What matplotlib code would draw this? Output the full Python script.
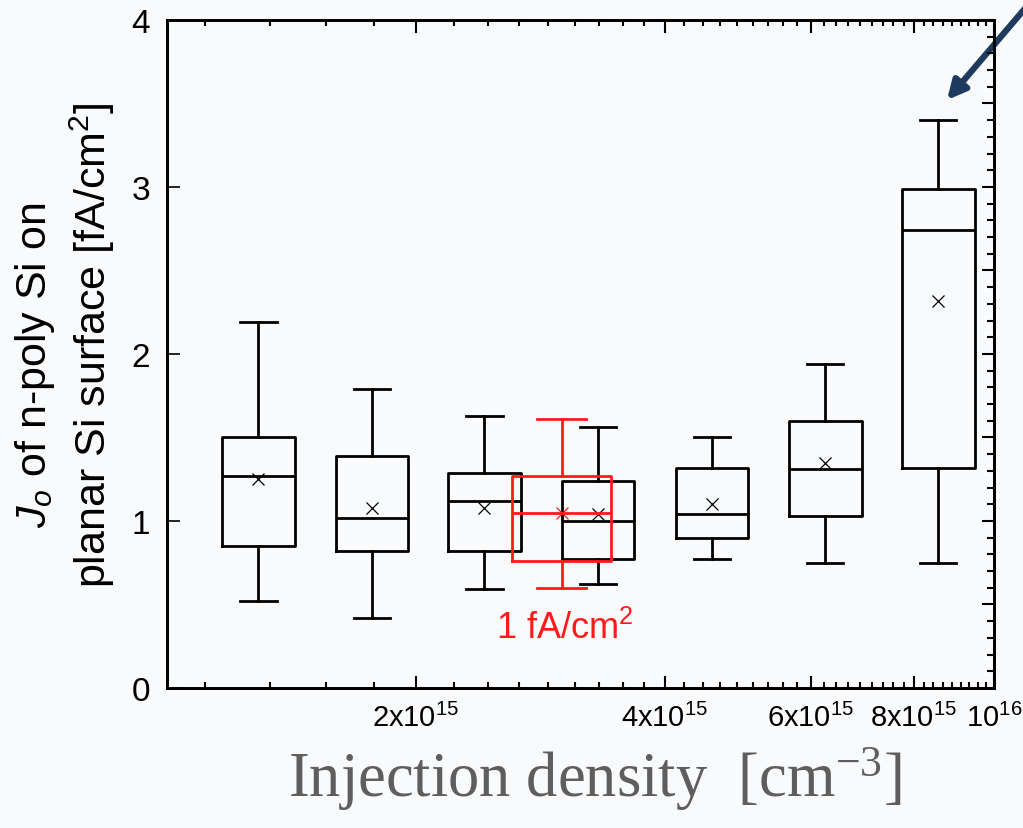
import numpy as np
import matplotlib.pyplot as plt
from matplotlib.ticker import FixedLocator, MultipleLocator, NullFormatter

plt.rcParams['font.family'] = ['Liberation Sans', 'DejaVu Sans']
plt.rcParams['mathtext.fontset'] = 'custom'
plt.rcParams['mathtext.rm'] = 'Liberation Sans'
plt.rcParams['mathtext.it'] = 'Liberation Sans:italic'

# injection density of each box [cm^-3]
density = [1.29e15, 1.77e15, 2.42e15, 3.32e15, 4.56e15, 6.25e15, 8.56e15]
whis_lo = [0.52, 0.42, 0.59, 0.62, 0.77, 0.75, 0.75]
q1 = [0.85, 0.82, 0.82, 0.77, 0.90, 1.03, 1.32]
median = [1.27, 1.02, 1.12, 1.00, 1.04, 1.31, 2.74]
q3 = [1.50, 1.39, 1.29, 1.24, 1.32, 1.60, 2.99]
whis_hi = [2.19, 1.79, 1.63, 1.56, 1.50, 1.94, 3.40]
mean = [1.25, 1.08, 1.08, 1.04, 1.10, 1.35, 2.32]

# red "1 fA/cm2" reference box
ref_density = 3.0e15
ref_lo, ref_q1, ref_med, ref_q3, ref_hi = 0.60, 0.76, 1.05, 1.27, 1.61

xticks = [2e15, 4e15, 6e15, 8e15, 1e16]
xticklabels = [r'2x10$\mathregular{^{15}}$', r'4x10$\mathregular{^{15}}$',
               r'6x10$\mathregular{^{15}}$', r'8x10$\mathregular{^{15}}$',
               r'10$\mathregular{^{16}}$']
yticks = [0, 1, 2, 3, 4]

bg = '#f9fafc'
fig = plt.figure(figsize=(10.23, 8.29), dpi=100, facecolor=bg)
ax = fig.add_axes([0.1632, 0.1689, 0.8085, 0.8058], facecolor=bg)

# axis is drawn in log10 units so the boxes keep a constant width
stats = []
for i in range(len(density)):
    stats.append(dict(whislo=whis_lo[i], q1=q1[i], med=median[i], q3=q3[i],
                      whishi=whis_hi[i], mean=mean[i], fliers=[]))
lw = 2.0
ax.bxp(stats, positions=np.log10(density), widths=0.088, showmeans=True,
       boxprops=dict(color='black', lw=lw), medianprops=dict(color='black', lw=lw),
       whiskerprops=dict(color='black', lw=lw), capprops=dict(color='black', lw=lw),
       meanprops=dict(marker='x', markeredgecolor='black', markersize=9, markeredgewidth=0.9),
       capwidths=0.044, manage_ticks=False)

ref = [dict(whislo=ref_lo, q1=ref_q1, med=ref_med, q3=ref_q3, whishi=ref_hi,
            mean=ref_med, fliers=[])]
red = '#ff1a1a'
ax.bxp(ref, positions=[np.log10(ref_density)], widths=0.12, showmeans=True,
       boxprops=dict(color=red, lw=lw, zorder=5), medianprops=dict(color=red, lw=lw, zorder=5),
       whiskerprops=dict(color=red, lw=lw, zorder=5), capprops=dict(color=red, lw=lw, zorder=5),
       meanprops=dict(marker='x', markeredgecolor=red, markersize=9, markeredgewidth=0.9, zorder=6),
       capwidths=0.06, manage_ticks=False)
ax.text(np.log10(ref_density) + 0.004, 0.36, r'1 fA/cm$^2$', color=red, fontsize=26,
        ha='center', va='center')

ax.set_xlim(15, 16)
ax.set_ylim(0, 4)

minor_x = [k * 2e15 / 9 for k in range(5, 45) if k % 9]
ax.xaxis.set_major_locator(FixedLocator(np.log10(xticks)))
ax.set_xticklabels(xticklabels)
ax.xaxis.set_minor_locator(FixedLocator(np.log10(minor_x)))
ax.xaxis.set_minor_formatter(NullFormatter())
ax.set_yticks(yticks)
ax.set_yticklabels([str(v) for v in yticks])

ax.tick_params(axis='x', which='major', direction='in', top=True, bottom=True,
               length=9, width=1.5, labelsize=21, pad=11)
ax.tick_params(axis='x', which='minor', direction='in', top=True, bottom=True,
               length=4, width=1.5)
ax.tick_params(axis='y', which='major', direction='in', left=True, right=False,
               length=9, width=1.2, labelsize=24, pad=12)

ax2 = ax.twinx()
ax2.set_ylim(0, 4)
ax2.yaxis.set_major_locator(MultipleLocator(0.5))
ax2.yaxis.set_minor_locator(MultipleLocator(0.1))
ax2.yaxis.set_major_formatter(NullFormatter())
ax2.tick_params(axis='y', which='major', direction='in', length=9, width=1.5)
ax2.tick_params(axis='y', which='minor', direction='in', length=5, width=1.5)

for a in (ax, ax2):
    for s in a.spines.values():
        s.set_linewidth(2.0)

fig.text(0.034, 1 - 365 / 829, r'$J_o$ of n-poly Si on', rotation=90,
         ha='center', va='center', fontsize=31)
fig.text(0.090, 1 - 345 / 829, r'planar Si surface [fA/cm$^2$]', rotation=90,
         ha='center', va='center', fontsize=31)

fig.text(0.5816, 1 - 797 / 829, r'Injection density  [cm$\mathregular{^{-3}}$]',
         family='Liberation Serif', color='#5e5e5e', fontsize=45,
         ha='center', va='baseline')

ax.annotate('', xy=(947, 829 - 101), xycoords='figure pixels',
            xytext=(1045, 829 + 14), textcoords='figure pixels',
            arrowprops=dict(arrowstyle='-|>,head_length=1.1,head_width=0.55',
                            color='#1f3a5f', lw=4.5, shrinkA=0, shrinkB=0),
            annotation_clip=False)

fig.savefig('out.png', dpi=100, facecolor=bg)
